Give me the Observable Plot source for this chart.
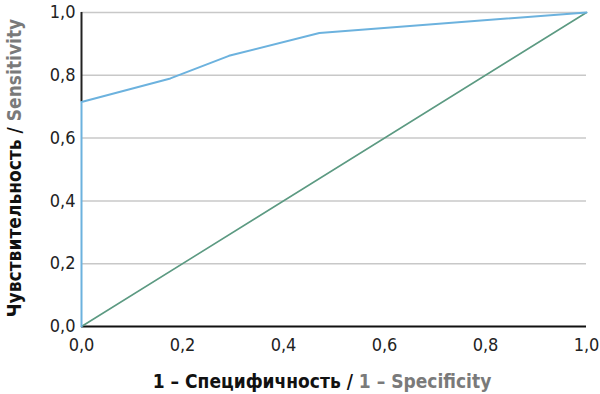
<!DOCTYPE html>
<html><head><meta charset="utf-8">
<script src="https://cdn.jsdelivr.net/npm/d3@7"></script>
<script src="https://cdn.jsdelivr.net/npm/@observablehq/plot@0.6"></script>
<style>
body{margin:0;background:#fff;}
svg text{font-family:"DejaVu Sans Condensed","Liberation Sans Narrow",sans-serif;}
</style>
</head><body>
<div id="chart"></div>
<script>
const rocX = [0, 0, 0.176, 0.292, 0.471, 1.0];
const rocY = [0, 0.715, 0.79, 0.862, 0.935, 1.0];
const diagX = [0, 1];
const diagY = [0, 1];
const ticks = [0, 0.2, 0.4, 0.6, 0.8, 1.0];
const xTitleRu = "1 – Специфичность / ";
const xTitleEn = "1 – Specificity";
const yTitleRu = "Чувствительность / ";
const yTitleEn = "Sensitivity";

const roc = rocX.map((x, i) => ({x, y: rocY[i]}));
const diag = diagX.map((x, i) => ({x, y: diagY[i]}));
const fmt = d => d.toFixed(1).replace(".", ",");

const chart = Plot.plot({
  width: 600, height: 394,
  marginLeft: 81, marginRight: 14, marginTop: 12, marginBottom: 68,
  style: {fontFamily: "'DejaVu Sans Condensed',sans-serif", background: "#fff"},
  x: {domain: [0, 1]},
  y: {domain: [0, 1]},
  marks: [
    Plot.ruleY(ticks.filter(t => t > 0), {stroke: "#c8c8c8", strokeWidth: 1.5}),
    Plot.ruleY([0], {stroke: "#111", strokeWidth: 2}),
    Plot.ruleX([0], {y1: rocY[1], y2: 1, stroke: "#222", strokeWidth: 2}),
    Plot.axisX({ticks: ticks, tickFormat: fmt, tickSize: 0, tickPadding: 12, fontSize: 18, fill: "#222", label: null}),
    Plot.axisY({ticks: ticks, tickFormat: fmt, tickSize: 0, tickPadding: 6, fontSize: 18, fill: "#222", label: null}),
    Plot.line(diag, {x: "x", y: "y", stroke: "#5c9a82", strokeWidth: 1.6}),
    Plot.line(roc, {x: "x", y: "y", stroke: "#6cb2de", strokeWidth: 2})
  ]
});
document.getElementById("chart").append(chart);

const svg = d3.select(chart);
const xt = svg.append("text")
  .attr("x", 322).attr("y", 388)
  .attr("text-anchor", "middle")
  .style("font-size", "19px").style("font-weight", "bold");
xt.append("tspan").attr("fill", "#111").text(xTitleRu);
xt.append("tspan").attr("fill", "#7a7a7a").text(xTitleEn);

const yt = svg.append("text")
  .attr("transform", "translate(21,168) rotate(-90)")
  .attr("text-anchor", "middle")
  .style("font-size", "19px").style("font-weight", "bold");
yt.append("tspan").attr("fill", "#111").text(yTitleRu);
yt.append("tspan").attr("fill", "#7a7a7a").text(yTitleEn);
</script>
</body></html>
